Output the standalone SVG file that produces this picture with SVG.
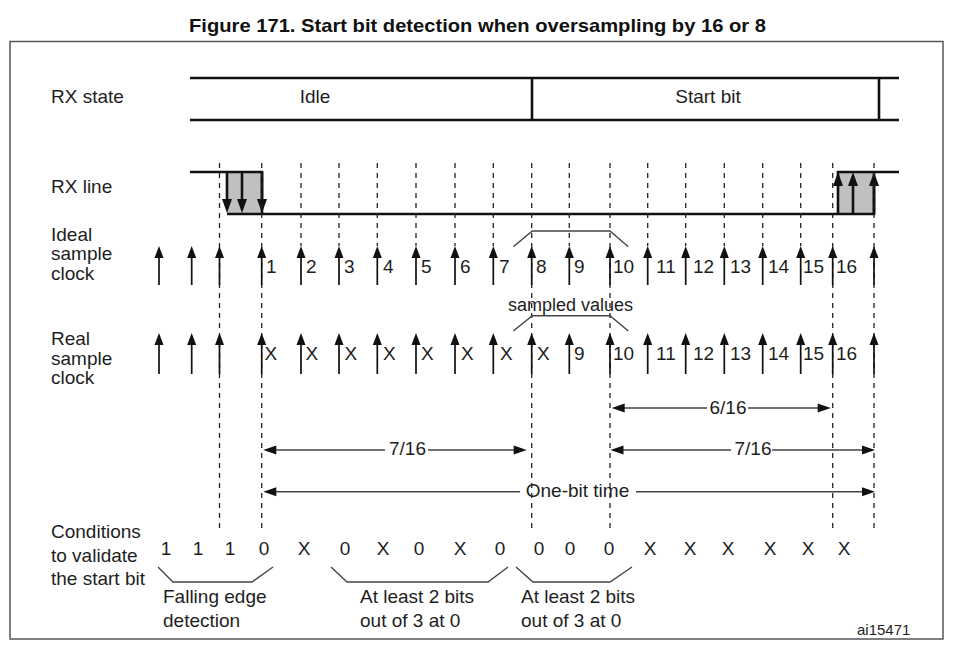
<svg xmlns="http://www.w3.org/2000/svg" xmlns:xlink="http://www.w3.org/1999/xlink" width="958" height="656" viewBox="0 0 958 656">
<style>
text{font-family:"Liberation Sans",Arial,sans-serif;font-size:19px;fill:#1e1e1e}
.title{font-weight:bold;font-size:18.5px;fill:#111}
.sm{font-size:18px}
.id{font-size:15px}
.mid{text-anchor:middle}
.thick{stroke:#111;stroke-width:2.6;fill:none}
.shaft{stroke:#111;stroke-width:1.7;fill:none}
.dash{stroke:#222;stroke-width:1.3;stroke-dasharray:5 5;fill:none}
.thin{stroke:#444;stroke-width:1.4;fill:none}
.head{fill:#111}
</style>
<defs>
<path id="up" d="M0,0 L-4.5,12 L4.5,12 Z"/>
<path id="upb" d="M0,0 L-5,14 L5,14 Z"/>
<path id="dnb" d="M0,0 L-5,-14 L5,-14 Z"/>
<path id="lt" d="M0,0 L13,-4.5 L13,4.5 Z"/>
<path id="rt" d="M0,0 L-13,-4.5 L-13,4.5 Z"/>
</defs>

<rect x="10" y="41.5" width="933" height="597.5" fill="none" stroke="#555" stroke-width="1.5"/>
<text class="title" x="189" y="31.5" textLength="577" lengthAdjust="spacingAndGlyphs">Figure 171. Start bit detection when oversampling by 16 or 8</text>

<g id="labels">
<text x="51" y="103">RX state</text>
<text x="51" y="193">RX line</text>
<text x="51" y="241">Ideal</text>
<text x="51" y="260">sample</text>
<text x="51" y="280">clock</text>
<text x="51" y="345">Real</text>
<text x="51" y="365">sample</text>
<text x="51" y="384">clock</text>
<text x="51" y="538">Conditions</text>
<text x="51" y="562">to validate</text>
<text x="51" y="585">the start bit</text>
</g>

<g id="rx-state">
<path class="thick" d="M190,78 H899 M190,120 H899 M532,78 V120 M879,78 V120"/>
<text class="mid" x="315" y="103">Idle</text>
<text class="mid" x="708" y="103">Start bit</text>
</g>

<g id="rx-line">
<rect x="227" y="172" width="35" height="42" fill="#c0c0c0"/>
<rect x="838" y="172" width="36" height="42" fill="#c0c0c0"/>
<path class="thick" d="M190,172 H262 V214 M227,214 H874 V172 M838,214 V172 H899"/>
<path class="thick" d="M227,172 V200 M242,172 V200 M262,172 V200 M853,186 V214 M874,186 V214"/>
<use href="#dnb" x="227" y="213" class="head"/>
<use href="#dnb" x="242" y="213" class="head"/>
<use href="#dnb" x="262" y="213" class="head"/>
<use href="#upb" x="838" y="172" class="head"/>
<use href="#upb" x="853" y="172" class="head"/>
<use href="#upb" x="874" y="172" class="head"/>
</g>

<g id="dashed">
<path class="dash" d="M219.5,163 V528 M261.7,163 V528 M531.7,163 V528 M610,163 V528 M832.7,163 V528 M874,163 V528"/>
<path class="dash" d="M301,163 V246 M339,163 V246 M377.3,163 V246 M416,163 V246 M455,163 V246 M493.3,163 V246 M569.3,163 V246 M647.7,163 V246 M685.7,163 V246 M724.3,163 V246 M762.7,163 V246 M800.7,163 V246"/>
</g>

<g id="ideal-clock">
<path class="shaft" d="M159,256 V285 M191.7,256 V285 M219.5,256 V285 M261.7,256 V285 M301,256 V285 M339,256 V285 M377.3,256 V285 M416,256 V285 M455,256 V285 M493.3,256 V285 M531.7,256 V285 M569.3,256 V285 M610,256 V285 M647.7,256 V285 M685.7,256 V285 M724.3,256 V285 M762.7,256 V285 M800.7,256 V285 M832.7,256 V285 M874,256 V285"/>
<g class="head">
<use href="#up" x="159" y="246"/><use href="#up" x="191.7" y="246"/><use href="#up" x="219.5" y="246"/><use href="#up" x="261.7" y="246"/><use href="#up" x="301" y="246"/><use href="#up" x="339" y="246"/><use href="#up" x="377.3" y="246"/><use href="#up" x="416" y="246"/><use href="#up" x="455" y="246"/><use href="#up" x="493.3" y="246"/><use href="#up" x="531.7" y="246"/><use href="#up" x="569.3" y="246"/><use href="#up" x="610" y="246"/><use href="#up" x="647.7" y="246"/><use href="#up" x="685.7" y="246"/><use href="#up" x="724.3" y="246"/><use href="#up" x="762.7" y="246"/><use href="#up" x="800.7" y="246"/><use href="#up" x="832.7" y="246"/><use href="#up" x="874" y="246"/>
</g>
<text x="266" y="273">1</text><text x="306" y="273">2</text><text x="344" y="273">3</text><text x="383" y="273">4</text><text x="421" y="273">5</text><text x="460" y="273">6</text><text x="499" y="273">7</text><text x="536" y="273">8</text><text x="574" y="273">9</text><text x="613" y="273">10</text><text x="656" y="273">11</text><text x="693" y="273">12</text><text x="730" y="273">13</text><text x="768" y="273">14</text><text x="803" y="273">15</text><text x="836" y="273">16</text>
<path class="thin" d="M513.3,246.7 L532.3,231 H610 L628.3,246.7"/>
</g>

<text class="sm" x="508" y="311">sampled values</text>

<g id="real-clock">
<path class="shaft" d="M159,343 V374 M191.7,343 V374 M219.5,343 V374 M261.7,343 V374 M301,343 V374 M339,343 V374 M377.3,343 V374 M416,343 V374 M455,343 V374 M493.3,343 V374 M531.7,343 V374 M569.3,343 V374 M610,343 V374 M647.7,343 V374 M685.7,343 V374 M724.3,343 V374 M762.7,343 V374 M800.7,343 V374 M832.7,343 V374 M874,343 V374"/>
<g class="head">
<use href="#up" x="159" y="333"/><use href="#up" x="191.7" y="333"/><use href="#up" x="219.5" y="333"/><use href="#up" x="261.7" y="333"/><use href="#up" x="301" y="333"/><use href="#up" x="339" y="333"/><use href="#up" x="377.3" y="333"/><use href="#up" x="416" y="333"/><use href="#up" x="455" y="333"/><use href="#up" x="493.3" y="333"/><use href="#up" x="531.7" y="333"/><use href="#up" x="569.3" y="333"/><use href="#up" x="610" y="333"/><use href="#up" x="647.7" y="333"/><use href="#up" x="685.7" y="333"/><use href="#up" x="724.3" y="333"/><use href="#up" x="762.7" y="333"/><use href="#up" x="800.7" y="333"/><use href="#up" x="832.7" y="333"/><use href="#up" x="874" y="333"/>
</g>
<text x="264.5" y="360">X</text><text x="305.5" y="360">X</text><text x="344.5" y="360">X</text><text x="383" y="360">X</text><text x="421" y="360">X</text><text x="461" y="360">X</text><text x="500" y="360">X</text><text x="537" y="360">X</text><text x="574" y="360">9</text><text x="613" y="360">10</text><text x="656" y="360">11</text><text x="693" y="360">12</text><text x="730" y="360">13</text><text x="768" y="360">14</text><text x="803" y="360">15</text><text x="836" y="360">16</text>
<path class="thin" d="M513.3,331 L532.3,315.7 H610 L628.3,331"/>
</g>

<g id="connectors">
<path class="thin" d="M620,408 H707 M748,408 H822"/>
<use href="#lt" x="611.7" y="408" class="head"/>
<use href="#rt" x="830.7" y="408" class="head"/>
<text class="mid" x="728" y="414">6/16</text>

<path class="thin" d="M270,450 H385 M428,450 H520"/>
<use href="#lt" x="263.3" y="450" class="head"/>
<use href="#rt" x="526.7" y="450" class="head"/>
<text class="mid" x="407.5" y="455">7/16</text>

<path class="thin" d="M618,450 H731 M772,450 H868"/>
<use href="#lt" x="610.5" y="450" class="head"/>
<use href="#rt" x="875" y="450" class="head"/>
<text class="mid" x="753" y="455">7/16</text>

<path class="thin" d="M270,491.7 H520 M636,491.7 H868"/>
<use href="#lt" x="263.3" y="491.7" class="head"/>
<use href="#rt" x="875" y="491.7" class="head"/>
<text class="mid" x="577.5" y="497">One-bit time</text>
</g>

<g id="conditions">
<text class="mid" x="166" y="555">1</text><text class="mid" x="198" y="555">1</text><text class="mid" x="230" y="555">1</text><text class="mid" x="264" y="555">0</text><text class="mid" x="304" y="555">X</text><text class="mid" x="345" y="555">0</text><text class="mid" x="383" y="555">X</text><text class="mid" x="419" y="555">0</text><text class="mid" x="460" y="555">X</text><text class="mid" x="500" y="555">0</text><text class="mid" x="539" y="555">0</text><text class="mid" x="570" y="555">0</text><text class="mid" x="609" y="555">0</text><text class="mid" x="650" y="555">X</text><text class="mid" x="690" y="555">X</text><text class="mid" x="728" y="555">X</text><text class="mid" x="770" y="555">X</text><text class="mid" x="808" y="555">X</text><text class="mid" x="844" y="555">X</text>
<path class="thin" d="M158,567 L173,582 H252 L273,567"/>
<path class="thin" d="M331,567 L347,582 H488 L508,567"/>
<path class="thin" d="M516,567 L533,582 H610 L632,567"/>
<text x="163" y="603">Falling edge</text>
<text x="163" y="626.5">detection</text>
<text x="360" y="603">At least 2 bits</text>
<text x="360" y="626.5">out of 3 at 0</text>
<text x="521" y="603">At least 2 bits</text>
<text x="521" y="626.5">out of 3 at 0</text>
</g>

<text class="id" x="857" y="635">ai15471</text>
</svg>
